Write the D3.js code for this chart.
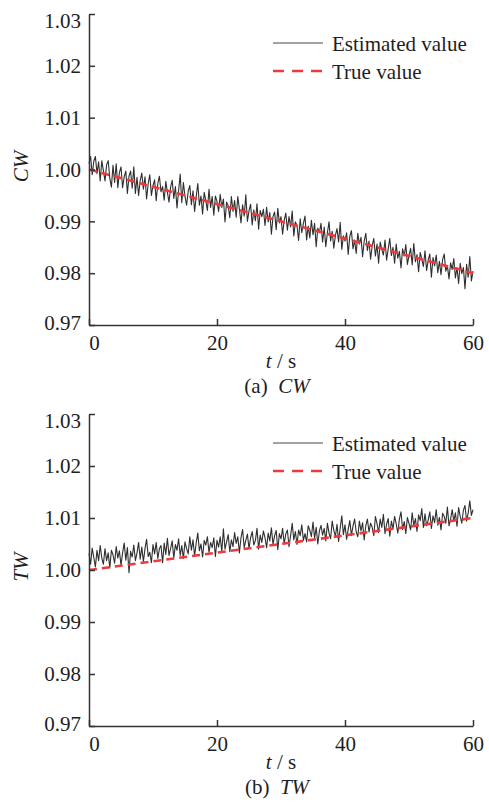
<!DOCTYPE html>
<html>
<head>
<meta charset="utf-8">
<script src="https://cdn.jsdelivr.net/npm/d3@7"></script>
<style>
  body { margin: 0; background: #fff; }
  svg { display: block; }
</style>
</head>
<body>
<svg id="chart" width="489" height="808"></svg>
<script>
'use strict';

// samples of the estimates, one every tStep seconds from t = 0
const tStep = 0.25;

const cwEstimated = [
  1.0012, 1.0025, 0.9990, 1.0016, 1.0025, 0.9992, 1.0015, 0.9978, 1.0017, 0.9998,
  0.9978, 1.0009, 1.0017, 0.9983, 0.9966, 1.0008, 0.9975, 1.0011, 0.9965, 0.9994,
  1.0005, 0.9965, 0.9986, 0.9997, 0.9954, 0.9987, 0.9997, 0.9964, 1.0005, 0.9954,
  0.9985, 0.9950, 0.9979, 0.9993, 0.9962, 0.9986, 0.9943, 0.9973, 0.9990, 0.9950,
  0.9969, 0.9980, 0.9940, 0.9973, 0.9987, 0.9957, 0.9967, 0.9941, 0.9977, 0.9956,
  0.9937, 0.9966, 0.9979, 0.9944, 0.9967, 0.9926, 0.9959, 0.9991, 0.9936, 0.9975,
  0.9948, 0.9931, 0.9958, 0.9969, 0.9932, 0.9959, 0.9919, 0.9948, 0.9973, 0.9931,
  0.9949, 0.9914, 0.9956, 0.9940, 0.9921, 0.9962, 0.9927, 0.9948, 0.9912, 0.9949,
  0.9938, 0.9919, 0.9952, 0.9927, 0.9943, 0.9899, 0.9937, 0.9930, 0.9907, 0.9948,
  0.9919, 0.9940, 0.9908, 0.9948, 0.9923, 0.9897, 0.9932, 0.9910, 0.9951, 0.9900,
  0.9920, 0.9933, 0.9893, 0.9922, 0.9901, 0.9934, 0.9885, 0.9921, 0.9909, 0.9923,
  0.9892, 0.9927, 0.9899, 0.9917, 0.9875, 0.9909, 0.9918, 0.9884, 0.9925, 0.9897,
  0.9909, 0.9875, 0.9902, 0.9916, 0.9883, 0.9909, 0.9889, 0.9920, 0.9872, 0.9899,
  0.9892, 0.9863, 0.9905, 0.9878, 0.9896, 0.9910, 0.9864, 0.9891, 0.9868, 0.9902,
  0.9874, 0.9896, 0.9851, 0.9887, 0.9878, 0.9896, 0.9860, 0.9889, 0.9851, 0.9878,
  0.9899, 0.9862, 0.9881, 0.9848, 0.9873, 0.9886, 0.9860, 0.9898, 0.9846, 0.9872,
  0.9862, 0.9878, 0.9836, 0.9871, 0.9882, 0.9847, 0.9864, 0.9838, 0.9877, 0.9856,
  0.9869, 0.9832, 0.9862, 0.9877, 0.9844, 0.9862, 0.9827, 0.9853, 0.9867, 0.9833,
  0.9856, 0.9819, 0.9860, 0.9846, 0.9835, 0.9864, 0.9825, 0.9847, 0.9867, 0.9834,
  0.9850, 0.9819, 0.9856, 0.9829, 0.9842, 0.9810, 0.9847, 0.9833, 0.9855, 0.9817,
  0.9834, 0.9848, 0.9816, 0.9857, 0.9822, 0.9836, 0.9803, 0.9840, 0.9827, 0.9813,
  0.9843, 0.9805, 0.9825, 0.9837, 0.9792, 0.9830, 0.9814, 0.9835, 0.9801, 0.9823,
  0.9797, 0.9826, 0.9837, 0.9804, 0.9814, 0.9789, 0.9820, 0.9807, 0.9828, 0.9791,
  0.9811, 0.9780, 0.9819, 0.9799, 0.9811, 0.9770, 0.9817, 0.9792, 0.9832, 0.9785,
  0.9804
];

const twEstimated = [
  1.0032, 1.0011, 1.0042, 1.0024, 1.0006, 1.0038, 1.0018, 1.0047, 1.0023, 1.0011,
  1.0041, 1.0018, 1.0033, 1.0004, 1.0038, 1.0029, 1.0013, 1.0045, 1.0023, 1.0037,
  1.0009, 1.0033, 1.0052, 1.0019, 1.0043, 0.9995, 1.0036, 1.0025, 1.0048, 1.0018,
  1.0033, 1.0053, 1.0021, 1.0044, 1.0016, 1.0041, 1.0059, 1.0026, 1.0034, 1.0014,
  1.0049, 1.0031, 1.0053, 1.0022, 1.0041, 1.0047, 1.0014, 1.0052, 1.0030, 1.0061,
  1.0028, 1.0041, 1.0056, 1.0023, 1.0049, 1.0038, 1.0060, 1.0028, 1.0047, 1.0022,
  1.0054, 1.0041, 1.0031, 1.0064, 1.0038, 1.0058, 1.0027, 1.0052, 1.0071, 1.0037,
  1.0050, 1.0025, 1.0057, 1.0048, 1.0064, 1.0034, 1.0053, 1.0043, 1.0062, 1.0026,
  1.0057, 1.0044, 1.0064, 1.0035, 1.0079, 1.0040, 1.0054, 1.0068, 1.0035, 1.0058,
  1.0045, 1.0072, 1.0051, 1.0064, 1.0033, 1.0062, 1.0078, 1.0043, 1.0057, 1.0069,
  1.0041, 1.0062, 1.0074, 1.0048, 1.0057, 1.0080, 1.0040, 1.0067, 1.0053, 1.0075,
  1.0062, 1.0043, 1.0071, 1.0056, 1.0081, 1.0049, 1.0066, 1.0076, 1.0039, 1.0070,
  1.0060, 1.0080, 1.0050, 1.0069, 1.0077, 1.0045, 1.0066, 1.0090, 1.0058, 1.0074,
  1.0049, 1.0077, 1.0066, 1.0087, 1.0057, 1.0070, 1.0054, 1.0085, 1.0076, 1.0064,
  1.0092, 1.0061, 1.0082, 1.0050, 1.0075, 1.0086, 1.0067, 1.0080, 1.0056, 1.0090,
  1.0071, 1.0060, 1.0094, 1.0076, 1.0064, 1.0088, 1.0055, 1.0081, 1.0104, 1.0068,
  1.0087, 1.0059, 1.0078, 1.0095, 1.0066, 1.0085, 1.0098, 1.0073, 1.0064, 1.0094,
  1.0075, 1.0091, 1.0058, 1.0085, 1.0098, 1.0073, 1.0090, 1.0082, 1.0066, 1.0103,
  1.0089, 1.0072, 1.0098, 1.0082, 1.0107, 1.0070, 1.0088, 1.0099, 1.0065, 1.0094,
  1.0079, 1.0103, 1.0089, 1.0071, 1.0098, 1.0112, 1.0078, 1.0093, 1.0070, 1.0101,
  1.0089, 1.0077, 1.0110, 1.0085, 1.0099, 1.0074, 1.0106, 1.0095, 1.0118, 1.0082,
  1.0108, 1.0085, 1.0096, 1.0112, 1.0080, 1.0104, 1.0091, 1.0116, 1.0086, 1.0101,
  1.0077, 1.0109, 1.0103, 1.0090, 1.0121, 1.0085, 1.0098, 1.0116, 1.0094, 1.0110,
  1.0084, 1.0120, 1.0103, 1.0090, 1.0115, 1.0124, 1.0094, 1.0110, 1.0133, 1.0105,
  1.0116
];

// true values are straight lines between these two instants
const trueTimes = [0, 60];
const cwTrue = [1.00, 0.98];
const twTrue = [1.00, 1.01];

const xTicks = [0, 20, 40, 60];
const yTicks = [0.97, 0.98, 0.99, 1.00, 1.01, 1.02, 1.03];
const legendLabels = ['Estimated value', 'True value'];

const panels = [
  { name: 'CW', letter: '(a)', est: cwEstimated, truth: cwTrue, top: 14, bottom: 325 },
  { name: 'TW', letter: '(b)', est: twEstimated, truth: twTrue, top: 414, bottom: 726 }
];

const fontFamily = "'Liberation Serif'";
const axisColor = '#333';
const textColor = '#1e1e1e';
const estColor = '#2e2e2e';
const trueColor = '#ee3a3c';
const left = 89;
const right = 473;

const svg = d3.select('#chart');

const xScale = d3.scaleLinear()
  .domain([0, 60])
  .range([left, right]);

function serifText(sel) {
  return sel
    .style('font-family', fontFamily)
    .style('font-size', '21px')
    .attr('fill', textColor);
}

panels.forEach(function (p) {
  const yScale = d3.scaleLinear()
    .domain([0.97, 1.03])
    .range([p.bottom, p.top]);

  const g = svg.append('g');

  const line = d3.line()
    .x(function (d) { return xScale(d[0]); })
    .y(function (d) { return yScale(d[1]); });

  const estPoints = p.est.map(function (v, i) { return [i * tStep, v]; });
  const truePoints = trueTimes.map(function (t, i) { return [t, p.truth[i]]; });

  g.append('path')
    .datum(estPoints)
    .attr('d', line)
    .attr('fill', 'none')
    .attr('stroke', estColor)
    .attr('stroke-width', 1.1)
    .attr('stroke-linejoin', 'round');

  g.append('path')
    .datum(truePoints)
    .attr('d', line)
    .attr('fill', 'none')
    .attr('stroke', trueColor)
    .attr('stroke-width', 2.6)
    .attr('stroke-dasharray', '8,5');

  // axes, ticks pointing inwards
  const yAxis = d3.axisLeft(yScale)
    .tickValues(yTicks)
    .tickFormat(d3.format('.2f'))
    .tickSize(-6)
    .tickSizeOuter(0)
    .tickPadding(8);

  const xAxis = d3.axisBottom(xScale)
    .tickValues(xTicks)
    .tickFormat(d3.format('d'))
    .tickSize(-6)
    .tickSizeOuter(0)
    .tickPadding(10);

  const gy = g.append('g')
    .attr('transform', `translate(${left},0)`)
    .call(yAxis);

  const gx = g.append('g')
    .attr('transform', `translate(0,${p.bottom})`)
    .call(xAxis);

  [gx, gy].forEach(function (ax) {
    ax.attr('font-family', null).attr('font-size', null);
    ax.selectAll('path, line').attr('stroke', axisColor).attr('stroke-width', 1.5);
    serifText(ax.selectAll('text'));
  });

  // the end labels sit slightly inside the frame in the reference
  gy.selectAll('.tick text')
    .attr('dy', function (d) { return d === 1.03 ? '0.62em' : d === 0.97 ? '0.2em' : '0.32em'; });
  gx.selectAll('.tick text')
    .attr('dx', function (d) { return d === 0 ? 5 : 0; });

  // axis titles
  serifText(g.append('text'))
    .attr('transform', `translate(28,${(p.top + p.bottom) / 2 - 3}) rotate(-90)`)
    .attr('text-anchor', 'middle')
    .style('font-style', 'italic')
    .text(p.name);

  const xTitle = serifText(g.append('text'))
    .attr('x', (left + right) / 2)
    .attr('y', p.bottom + 43)
    .attr('text-anchor', 'middle');
  xTitle.append('tspan').style('font-style', 'italic').text('t');
  xTitle.append('tspan').text(' / s');

  const caption = serifText(g.append('text'))
    .attr('x', 277)
    .attr('y', p.bottom + 68)
    .attr('text-anchor', 'middle');
  caption.append('tspan').text(p.letter + '\u00a0 ');
  caption.append('tspan').style('font-style', 'italic').text(p.name);

  // legend
  const lg = g.append('g')
    .attr('transform', `translate(273,${p.top + 29})`);

  lg.append('line')
    .attr('x1', 0).attr('x2', 50)
    .attr('y1', 0).attr('y2', 0)
    .attr('stroke', '#444')
    .attr('stroke-width', 1);

  lg.append('line')
    .attr('x1', 0).attr('x2', 50)
    .attr('y1', 28).attr('y2', 28)
    .attr('stroke', trueColor)
    .attr('stroke-width', 2.6)
    .attr('stroke-dasharray', '11,8');

  serifText(lg.selectAll('text.legend')
    .data(legendLabels)
    .join('text'))
    .attr('class', 'legend')
    .attr('x', 59)
    .attr('y', function (d, i) { return i * 28 + 8; })
    .text(function (d) { return d; });
});
</script>
</body>
</html>
